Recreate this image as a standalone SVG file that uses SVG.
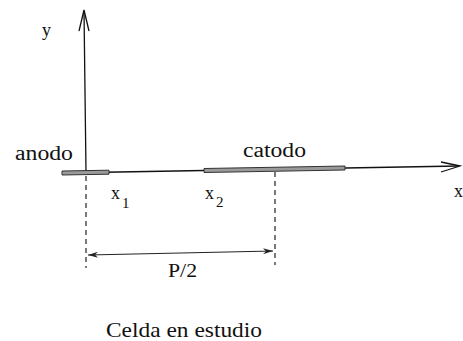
<svg xmlns="http://www.w3.org/2000/svg" width="463" height="341" viewBox="0 0 463 341">
<style>
.ax{stroke:#111;stroke-width:1.3;fill:none}
.head{stroke:#111;stroke-width:1.3;fill:none;stroke-linejoin:miter}
.dash{stroke:#222;stroke-width:1.2;stroke-dasharray:5 4;fill:none}
.bar{fill:#9a9a9a;stroke:#333;stroke-width:1}
.dim{stroke:#222;stroke-width:1;fill:none}
text{font-family:'Liberation Serif','DejaVu Serif',serif;fill:#111}
</style>
<defs>
<marker id="sm" viewBox="0 0 10 6" refX="10" refY="3" markerWidth="10" markerHeight="6" markerUnits="userSpaceOnUse" orient="auto-start-reverse">
<path d="M0,0 L10,3 L0,6 L3,3 Z" fill="#222"/>
</marker>
</defs>
<g id="connectors">
<line class="ax" x1="86" y1="172" x2="84" y2="11"/>
<path class="head" d="M79,31 L84,10 L89,31"/>
<line class="ax" x1="62" y1="173" x2="459" y2="166"/>
<path class="head" d="M441,162 L460,166 L441,172"/>
<line class="dash" x1="86" y1="176" x2="86" y2="268"/>
<line class="dash" x1="275" y1="172" x2="275" y2="265"/>
<line class="dim" x1="88" y1="255" x2="273" y2="251" marker-start="url(#sm)" marker-end="url(#sm)"/>
</g>
<g id="anodo">
<polygon class="bar" points="62,171 109,170.2 109,174.2 62,175"/>
<text x="15" y="160" font-size="20" textLength="58" lengthAdjust="spacingAndGlyphs">anodo</text>
</g>
<g id="catodo">
<polygon class="bar" points="204,168.5 345,166 345,170 204,172.5"/>
<text x="243" y="157" font-size="20" textLength="63" lengthAdjust="spacingAndGlyphs">catodo</text>
</g>
<g id="labels">
<text x="42" y="36" font-size="18">y</text>
<text x="111" y="199" font-size="18">x</text>
<text x="122" y="208" font-size="15">1</text>
<text x="205" y="199" font-size="18">x</text>
<text x="216" y="207" font-size="15">2</text>
<text x="454" y="197" font-size="18">x</text>
<text x="168" y="277" font-size="18" textLength="29" lengthAdjust="spacingAndGlyphs">P/2</text>
<text x="106" y="337" font-size="21" textLength="156" lengthAdjust="spacingAndGlyphs">Celda en estudio</text>
</g>
</svg>
